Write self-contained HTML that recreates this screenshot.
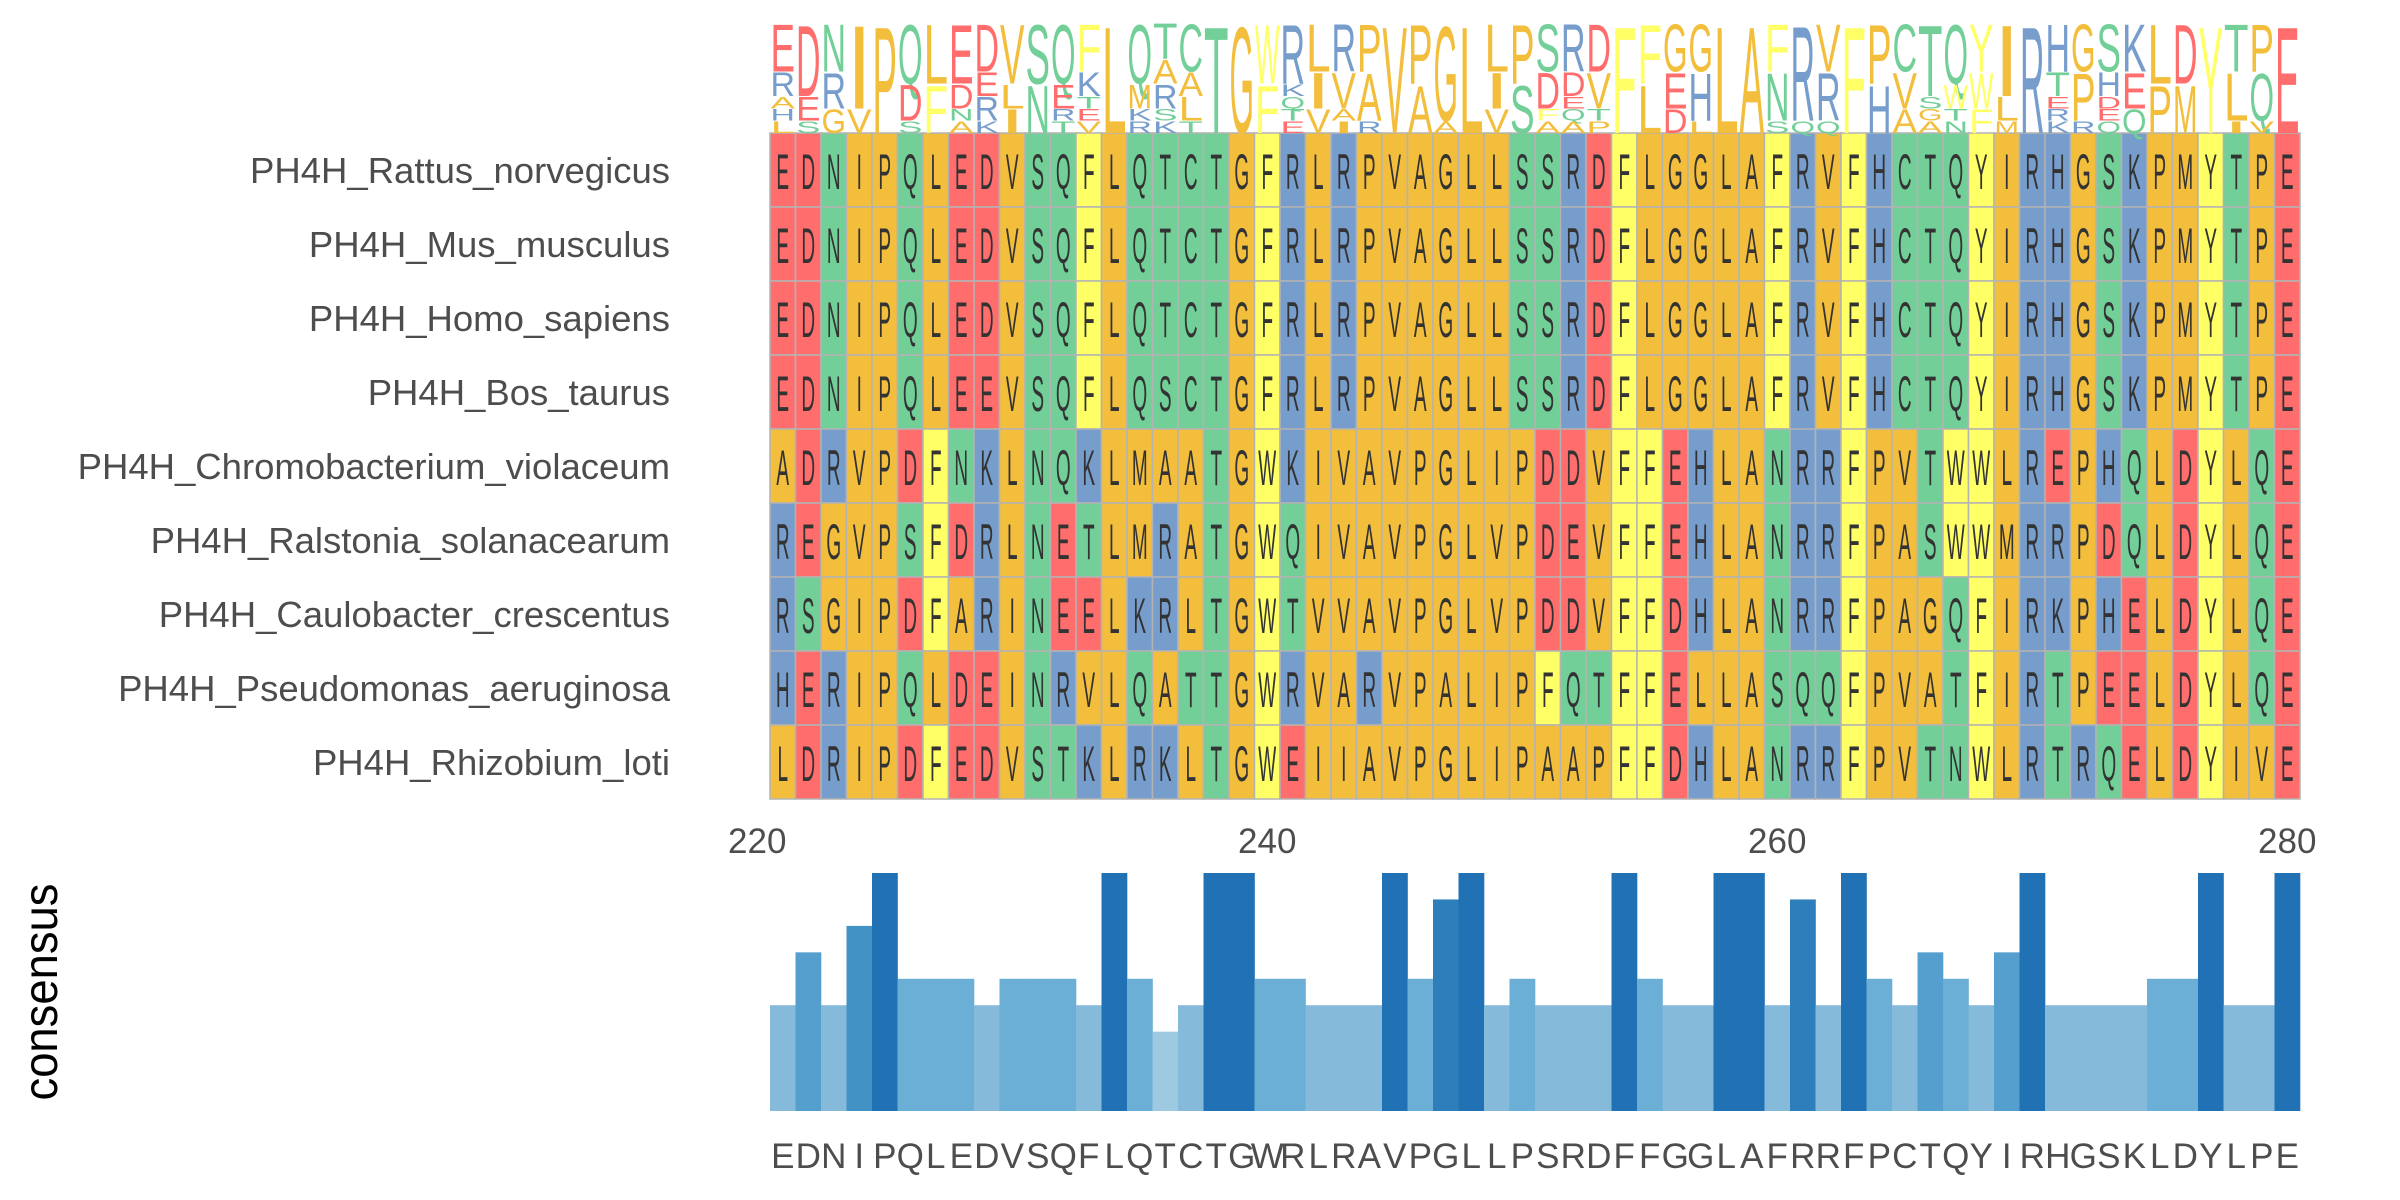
<!DOCTYPE html>
<html><head><meta charset="utf-8"><style>
html,body{margin:0;padding:0;background:#fff;}
svg{display:block;}
</style></head><body>
<svg id="s" xmlns="http://www.w3.org/2000/svg" width="2400" height="1200" viewBox="0 0 2400 1200"></svg>
<script>
const rows=[
["PH4H_Rattus_norvegicus","EDNIPQLEDVSQFLQTCTGFRLRPVAGLLSSRDFLGGLAFRVFHCTQYIRHGSKPMYTPE"],
["PH4H_Mus_musculus","EDNIPQLEDVSQFLQTCTGFRLRPVAGLLSSRDFLGGLAFRVFHCTQYIRHGSKPMYTPE"],
["PH4H_Homo_sapiens","EDNIPQLEDVSQFLQTCTGFRLRPVAGLLSSRDFLGGLAFRVFHCTQYIRHGSKPMYTPE"],
["PH4H_Bos_taurus","EDNIPQLEEVSQFLQSCTGFRLRPVAGLLSSRDFLGGLAFRVFHCTQYIRHGSKPMYTPE"],
["PH4H_Chromobacterium_violaceum","ADRVPDFNKLNQKLMAATGWKIVAVPGLIPDDVFFEHLANRRFPVTWWLREPHQLDYLQE"],
["PH4H_Ralstonia_solanacearum","REGVPSFDRLNETLMRATGWQIVAVPGLVPDEVFFEHLANRRFPASWWMRRPDQLDYLQE"],
["PH4H_Caulobacter_crescentus","RSGIPDFARINEELKRLTGWTVVAVPGLVPDDVFFDHLANRRFPAGQFIRKPHELDYLQE"],
["PH4H_Pseudomonas_aeruginosa","HERIPQLDEINRVLQATTGWRVARVPALIPFQTFFELLASQQFPVATFIRTPEELDYLQE"],
["PH4H_Rhizobium_loti","LDRIPDFEDVSTKLRKLTGWEIIAVPGLIPAAPFFDHLANRRFPVTNWLRTRQELDYIVE"]];
const cons="EDNIPQLEDVSQFLQTCTGWRLRAVPGLLPSRDFFGGLAFRRFPCTQYIRHGSKLDYLPE";
function col(c){
 if("ED".includes(c))return"#ff6d6d";
 if("RKH".includes(c))return"#769dcc";
 if("NQSTC".includes(c))return"#72cf98";
 if("FWY".includes(c))return"#ffff66";
 return"#f2be3c";}
const X0=770,CW=25.5,Y0=133,RH=74;
let h="";
rows.forEach((r,i)=>{
 h+=`<text x="670" y="${Y0+i*RH+50}" text-anchor="end" font-family="Liberation Sans, sans-serif" font-size="36.5" fill="#4d4d4d">${r[0]}</text>`;
 for(let j=0;j<60;j++){
  const x=X0+j*CW,y=Y0+i*RH;
  h+=`<rect x="${x}" y="${y}" width="${CW}" height="${RH}" fill="${col(r[1][j])}" stroke="#b3b3b3" stroke-width="1.5"/>`;
 }
});
rows.forEach((r,i)=>{for(let j=0;j<60;j++){
  const c=r[1][j],cx=X0+j*CW+CW/2,y=Y0+i*RH+56;
  h+=`<text transform="translate(${cx},${y}) scale(0.38,1)" text-anchor="middle" font-family="Liberation Sans, sans-serif" font-size="50" fill="#333">${c}</text>`;
}});
const LT=22,LB=133,LH=LB-LT;
const bc={9:"#2171b5",8:"#2e7ebc",7:"#4292c6",6:"#559fcf",5:"#6baed6",4:"#85badb",3:"#9ecae1",2:"#b5d5e8",1:"#c6dbef"};
for(let j=0;j<60;j++){
 const cnt={};rows.forEach(r=>{const c=r[1][j];cnt[c]=(cnt[c]||0)+1;});
 const ent=Object.entries(cnt).sort((a,b)=>b[1]-a[1]);
 let y=LT;const x=X0+j*CW+0.5,w=CW-1;
 ent.forEach(([c,n])=>{
  const hh=n/9*LH;const fs=hh/0.729;
  h+=`<text x="${x}" y="${y+hh}" font-family="Liberation Sans, sans-serif" font-size="${fs.toFixed(2)}" textLength="${w}" lengthAdjust="spacingAndGlyphs" fill="${col(c)}">${c}</text>`;
  y+=hh;});
 const mx=ent[0][1];const bh=mx/9*238;
 h+=`<rect x="${X0+j*CW}" y="${1111-bh}" width="${CW+0.3}" height="${bh}" fill="${bc[mx]}"/>`;
 h+=`<text x="${X0+j*CW+CW/2}" y="1168" text-anchor="middle" font-family="Liberation Sans, sans-serif" font-size="35" fill="#4d4d4d">${cons[j]}</text>`;
}
[220,240,260,280].forEach(t=>{
 const x=X0+(t-220.5)*CW;
 h+=`<text x="${x}" y="853" text-anchor="middle" font-family="Liberation Sans, sans-serif" font-size="35" fill="#4d4d4d">${t}</text>`;
});
h+=`<text transform="translate(57,992) rotate(-90)" text-anchor="middle" font-family="Liberation Sans, sans-serif" font-size="48" textLength="217" lengthAdjust="spacingAndGlyphs" fill="#000">consensus</text>`;
document.getElementById("s").innerHTML=h;
</script>
</body></html>
